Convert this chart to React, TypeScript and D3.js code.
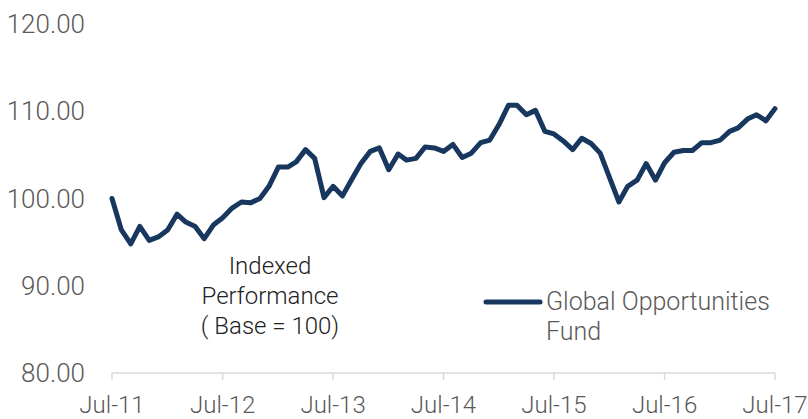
import React from 'react';
import * as d3 from 'd3';

// monthly index values, Jul-11 .. Jul-17 (73 months)
const fundValues = [
  100.0, 96.4, 94.8, 96.8, 95.2, 95.6, 96.4, 98.2, 97.3, 96.8, 95.4, 97.0,
  97.8, 98.9, 99.6, 99.5, 100.0, 101.4, 103.6, 103.6, 104.2, 105.6, 104.6, 100.1,
  101.4, 100.3, 102.2, 104.0, 105.4, 105.8, 103.3, 105.1, 104.4, 104.6, 105.9, 105.8,
  105.4, 106.2, 104.7, 105.2, 106.4, 106.7, 108.5, 110.7, 110.7, 109.6, 110.1, 107.7,
  107.4, 106.6, 105.6, 106.9, 106.3, 105.2, 102.4, 99.6, 101.4, 102.1, 104.0, 102.1,
  104.1, 105.3, 105.5, 105.5, 106.4, 106.4, 106.7, 107.7, 108.1, 109.1, 109.6, 108.9,
  110.3,
];
const yTicks = [80, 90, 100, 110, 120];
const xTickLabels = ['Jul-11', 'Jul-12', 'Jul-13', 'Jul-14', 'Jul-15', 'Jul-16', 'Jul-17'];
const seriesName = ['Global Opportunities', 'Fund'];
const noteLines = ['Indexed', 'Performance', '( Base = 100)'];

const width = 808;
const height = 419;
const textColor = '#595959';
const lineColor = '#17375E';
const font = 'Roboto, sans-serif';

export default function App() {
  const start = new Date(2011, 6, 1);
  const months = d3.timeMonth.range(start, d3.timeMonth.offset(start, fundValues.length));
  const data = months.map((d, i) => ({ date: d, value: fundValues[i] }));

  const x = d3.scaleTime().domain([start, new Date(2017, 6, 1)]).range([112, 775]);
  const y = d3.scaleLinear().domain([80, 120]).range([373, 24]);

  const line = d3
    .line<{ date: Date; value: number }>()
    .x((d) => x(d.date))
    .y((d) => y(d.value));

  const yearTicks = xTickLabels.map((_, i) => new Date(2011 + i, 6, 1));

  return (
    <svg
      width={width}
      height={height}
      style={{ position: 'absolute', left: 0, top: 0, background: '#fff' }}
      fontFamily={font}
    >
      {/* y axis labels, no grid */}
      {yTicks.map((t) => (
        <text
          key={t}
          x={85}
          y={y(t)}
          dy="0.35em"
          textAnchor="end"
          fontSize={26}
          fontWeight={300}
          fill={textColor}
        >
          {t.toFixed(2)}
        </text>
      ))}

      {/* x axis */}
      <line x1={x(start)} x2={x(yearTicks[6])} y1={373} y2={373} stroke="#d9d9d9" strokeWidth={1.5} />
      {yearTicks.map((d, i) => (
        <g key={i}>
          <line x1={x(d)} x2={x(d)} y1={373} y2={380} stroke="#d9d9d9" strokeWidth={1.5} />
          <text
            x={x(d)}
            y={413}
            textAnchor="middle"
            fontSize={24}
            fontWeight={300}
            fill={textColor}
          >
            {xTickLabels[i]}
          </text>
        </g>
      ))}

      <path
        d={line(data) || ''}
        fill="none"
        stroke={lineColor}
        strokeWidth={5}
        strokeLinejoin="round"
        strokeLinecap="round"
      />

      {/* annotation */}
      {noteLines.map((s, i) => (
        <text
          key={s}
          x={270}
          y={274 + i * 30}
          textAnchor="middle"
          fontSize={24}
          fontWeight={300}
          fill="#222"
        >
          {s}
        </text>
      ))}

      {/* legend */}
      <line x1={486} x2={540} y1={302} y2={302} stroke={lineColor} strokeWidth={5} strokeLinecap="round" />
      {seriesName.map((s, i) => (
        <text
          key={s}
          x={546}
          y={310 + i * 30}
          fontSize={25}
          fontWeight={300}
          fill={textColor}
        >
          {s}
        </text>
      ))}
    </svg>
  );
}
